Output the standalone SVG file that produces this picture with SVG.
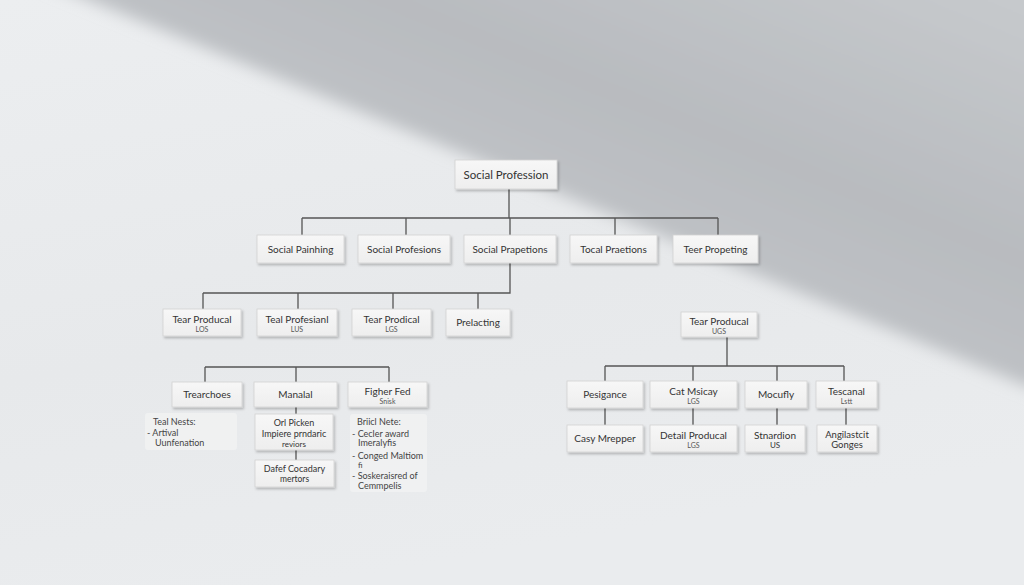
<svg xmlns="http://www.w3.org/2000/svg" width="1024" height="585" viewBox="0 0 1024 585">
<defs>
<linearGradient id="bg" x1="0" y1="0" x2="0.3" y2="1">
<stop offset="0" stop-color="#eceef0"/>
<stop offset="0.6" stop-color="#e7e9eb"/>
<stop offset="1" stop-color="#eaecee"/>
</linearGradient>
<linearGradient id="sh" x1="0.3" y1="0.6" x2="0.9" y2="0">
<stop offset="0" stop-color="#c4c7ca"/>
<stop offset="0.5" stop-color="#b8bbbf"/>
<stop offset="1" stop-color="#c6c9cc"/>
</linearGradient>
<linearGradient id="box" x1="0" y1="0" x2="0" y2="1">
<stop offset="0" stop-color="#f7f7f7"/>
<stop offset="1" stop-color="#eeeeee"/>
</linearGradient>
<filter id="blur" x="-10%" y="-10%" width="120%" height="120%"><feGaussianBlur stdDeviation="8"/></filter>
<filter id="ds" x="-20%" y="-30%" width="140%" height="170%"><feDropShadow dx="1.5" dy="2" stdDeviation="1.2" flood-color="#000" flood-opacity="0.22"/></filter>
</defs>
<style>
.n rect{fill:url(#box);stroke:#d2d2d2;stroke-width:0.8;filter:url(#ds)}
.n text{font-family:Lato,"Open Sans",sans-serif;font-size:10px;fill:#333;text-anchor:middle}
.n text.s{font-size:7px;fill:#555}
.note rect{fill:#f1f2f3;opacity:0.8}
.note text{font-family:Lato,"Open Sans",sans-serif;font-size:9px;fill:#444}
#connectors path{fill:none;stroke:#555;stroke-width:1.3}
</style>
<rect width="1024" height="585" fill="url(#bg)"/>
<polygon points="40,-20 1044,-20 1044,392 1024,385" fill="url(#sh)" filter="url(#blur)"/>

<g id="connectors">
<path d="M509,189V218M302,218H718M302,218V235M406,218V235M510,218V235M615,218V235M718,218V235"/>
<path d="M510,263V293H203M203,293V309M298,293V309M393,293V309M478,293V309"/>
<path d="M205,367H389M205,367V382M296,367V382M389,367V382"/>
<path d="M296,407V414M296,450V460"/>
<path d="M727,337V366M605,366H844M605,366V381M693,366V381M777,366V381M844,366V381"/>
<path d="M605,408V425M693,408V425M777,408V425M846,408V425"/>
</g>

<g id="n-root" class="n"><rect x="455" y="160" width="102" height="29"/><text x="506" y="178.5" style="font-size:11.5px">Social Profession</text></g>

<g id="n-social-painhing" class="n"><rect x="257" y="235" width="87" height="28"/><text x="300.5" y="252.5">Social Painhing</text></g>
<g id="n-social-profesions" class="n"><rect x="358" y="235" width="92" height="28"/><text x="404" y="252.5">Social Profesions</text></g>
<g id="n-social-prapetions" class="n"><rect x="464" y="235" width="92" height="28"/><text x="510" y="252.5">Social Prapetions</text></g>
<g id="n-tocal-praetions" class="n"><rect x="570" y="235" width="87" height="28"/><text x="613.5" y="252.5">Tocal Praetions</text></g>
<g id="n-teer-propeting" class="n"><rect x="673" y="235" width="85" height="28"/><text x="715.5" y="252.5">Teer Propeting</text></g>

<g id="n-tear-producal-1" class="n"><rect x="163" y="309" width="78" height="27"/><text x="202" y="323">Tear Producal</text><text class="s" x="202" y="332">LOS</text></g>
<g id="n-teal-profesianl" class="n"><rect x="257" y="309" width="80" height="27"/><text x="297" y="323">Teal Profesianl</text><text class="s" x="297" y="332">LUS</text></g>
<g id="n-tear-prodical" class="n"><rect x="352" y="309" width="79" height="27"/><text x="391.5" y="323">Tear Prodical</text><text class="s" x="391.5" y="332">LGS</text></g>
<g id="n-prelacting" class="n"><rect x="446" y="309" width="64" height="27"/><text x="478" y="326">Prelacting</text></g>

<g id="n-trearchoes" class="n"><rect x="172" y="382" width="70" height="25"/><text x="207" y="397.5">Trearchoes</text></g>
<g id="n-manalal" class="n"><rect x="254" y="382" width="83" height="25"/><text x="295.5" y="397.5">Manalal</text></g>
<g id="n-figher-fed" class="n"><rect x="348" y="382" width="79" height="25"/><text x="387.5" y="395">Figher Fed</text><text class="s" x="387.5" y="403.5">Snisk</text></g>

<g id="n-note-left" class="note"><rect x="145" y="413" width="92" height="37" rx="3"/><text x="153" y="425">Teal Nests:</text><text x="147" y="436">- Artival</text><text x="155" y="446">Uunfenation</text></g>
<g id="n-orl-picken" class="n"><rect x="255" y="414" width="78" height="36"/><text x="294" y="425.5" style="font-size:9px">Orl Picken</text><text x="294" y="437" style="font-size:9px">Impiere prndaric</text><text x="294" y="446.5" style="font-size:8px">reviors</text></g>
<g id="n-dafef" class="n"><rect x="255" y="460" width="79" height="27"/><text x="294.5" y="471.5" style="font-size:9px">Dafef Cocadary</text><text x="294.5" y="482" style="font-size:8.5px">mertors</text></g>
<g id="n-note-right" class="note"><rect x="350" y="414" width="77" height="78" rx="3"/><text x="357" y="425">Briicl Nete:</text><text x="352" y="437">- Cecler award</text><text x="358" y="446">Imeralyfis</text><text x="352" y="459">- Conged Maltiom</text><text x="358" y="468" style="font-size:8px">fi</text><text x="352" y="479">- Soskeraisred of</text><text x="358" y="489">Cemmpelis</text></g>

<g id="n-tear-producal-2" class="n"><rect x="681" y="312" width="76" height="25"/><text x="719" y="325">Tear Producal</text><text class="s" x="719" y="333.5">UGS</text></g>
<g id="n-pesigance" class="n"><rect x="567" y="381" width="76" height="27"/><text x="605" y="397.5">Pesigance</text></g>
<g id="n-cat-msicay" class="n"><rect x="650" y="381" width="87" height="27"/><text x="693.5" y="395">Cat Msicay</text><text class="s" x="693.5" y="404">LGS</text></g>
<g id="n-mocufly" class="n"><rect x="745" y="381" width="62" height="27"/><text x="776" y="397.5">Mocufly</text></g>
<g id="n-tescanal" class="n"><rect x="816" y="381" width="61" height="27"/><text x="846.5" y="395">Tescanal</text><text class="s" x="846.5" y="404">Lstt</text></g>

<g id="n-casy-mrepper" class="n"><rect x="567" y="425" width="76" height="27"/><text x="605" y="441.5">Casy Mrepper</text></g>
<g id="n-detail-producal" class="n"><rect x="650" y="425" width="87" height="27"/><text x="693.5" y="439">Detail Producal</text><text class="s" x="693.5" y="448">LGS</text></g>
<g id="n-stnardion" class="n"><rect x="745" y="425" width="60" height="27"/><text x="775" y="439">Stnardion</text><text x="775" y="448" style="font-size:8px">US</text></g>
<g id="n-angilastcit" class="n"><rect x="817" y="425" width="60" height="27"/><text x="847" y="437.5" style="font-size:9.5px">Angilastcit</text><text x="847" y="447.5" style="font-size:9.5px">Gonges</text></g>
</svg>
